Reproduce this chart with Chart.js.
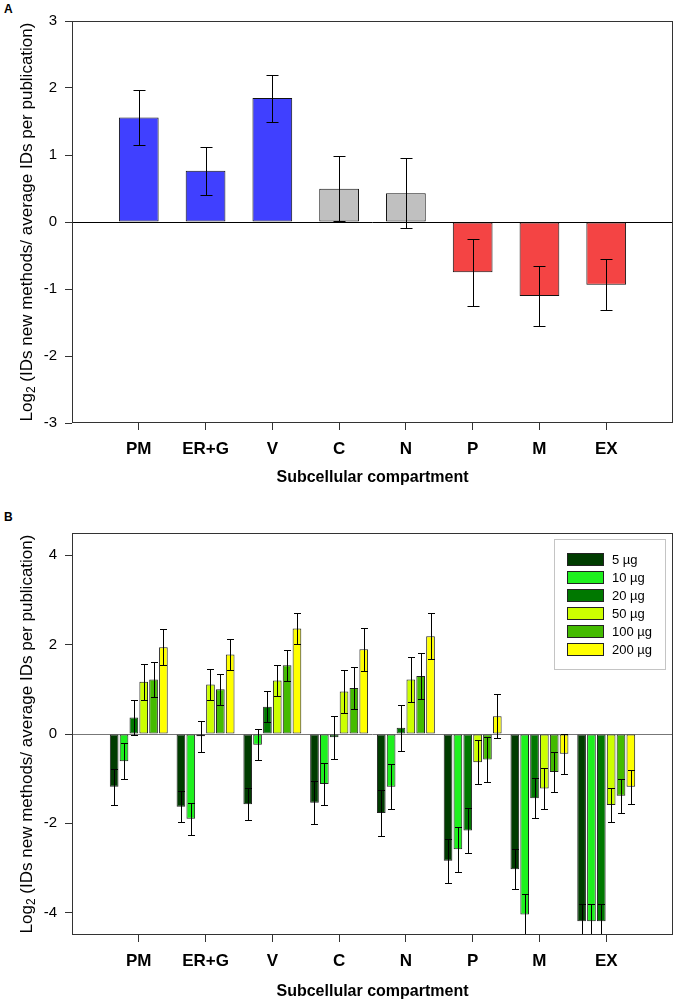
<!DOCTYPE html>
<html>
<head>
<meta charset="utf-8">
<script src="https://cdn.jsdelivr.net/npm/chart.js@4/dist/chart.umd.min.js"></script>
<style>
  html, body { margin: 0; padding: 0; background: #fff; }
  body { width: 682px; height: 1003px; position: relative; overflow: hidden; font-family: "Liberation Sans", Arial, sans-serif; }
  .panel { position: absolute; left: 0; width: 682px; }
  .tag { position: absolute; left: 4px; font: bold 12px "Liberation Sans", Arial, sans-serif; line-height: 1; color: #000; }
</style>
</head>
<body>
<div class="tag" style="top:3px">A</div>
<div class="tag" style="top:511px">B</div>
<div class="panel" style="top:0;height:500px"><canvas id="cA" width="682" height="500"></canvas></div>
<div class="panel" style="top:500px;height:503px"><canvas id="cB" width="682" height="503"></canvas></div>
<script>
// ---------------- data ----------------
const categories = ['PM', 'ER+G', 'V', 'C', 'N', 'P', 'M', 'EX'];

// Panel A
const valuesA = [1.56, 0.765, 1.85, 0.495, 0.43, -0.75, -1.105, -0.935];
const errorsA = [0.41, 0.36, 0.35, 0.485, 0.52, 0.50, 0.45, 0.38];
const colorsA = ['#4040FF', '#4040FF', '#4040FF', '#C0C0C0', '#C0C0C0', '#F44444', '#F44444', '#F44444'];
const yTicksA = [-3, -2, -1, 0, 1, 2, 3];

// Panel B
const seriesNames = ['5 µg', '10 µg', '20 µg', '50 µg', '100 µg', '200 µg'];
const s5   = [-1.18, -1.63, -1.57, -1.54, -1.77, -2.84, -3.03, -4.19];
const s10  = [-0.61, -1.90, -0.24, -1.12, -1.18, -2.58, -4.04, -4.19];
const s20  = [0.37, -0.05, 0.61, -0.07, 0.14, -2.16, -1.44, -4.19];
const s50  = [1.17, 1.11, 1.20, 0.95, 1.22, -0.63, -1.22, -1.59];
const s100 = [1.22, 1.00, 1.54, 1.03, 1.30, -0.57, -0.85, -1.38];
const s200 = [1.94, 1.78, 2.36, 1.90, 2.19, 0.40, -0.44, -1.18];
const errorsB = [0.40, 0.35, 0.35, 0.48, 0.51, 0.50, 0.45, 0.38];
const seriesColors = ['#003C00', '#1EF01E', '#007800', '#CCFF00', '#44BB00', '#FFFF00'];
const yTicksB = [-4, -2, 0, 2, 4];

// ---------------- helpers ----------------
const FONT = '"Liberation Sans", Arial, sans-serif';
const pad = arr => [null, ...arr, null];
const labels = ['', ...categories, ''];

const framePlugin = {
  id: 'frame',
  afterDatasetsDraw(chart, args, opts) {
    const ctx = chart.ctx, a = chart.chartArea;
    const yS = chart.scales.y;
    ctx.save();
    ctx.beginPath();
    ctx.rect(a.left, a.top, a.right - a.left, a.bottom - a.top);
    ctx.clip();
    ctx.strokeStyle = '#000';
    ctx.lineWidth = 1;
    chart.data.datasets.forEach((ds, di) => {
      const meta = chart.getDatasetMeta(di);
      ds.data.forEach((v, i) => {
        if (v === null || v === undefined) return;
        const e = ds.errors[i];
        const x = Math.round(meta.data[i].x) + 0.5;
        const y1 = Math.round(yS.getPixelForValue(v + e)) + 0.5;
        const y2 = Math.round(yS.getPixelForValue(v - e)) + 0.5;
        const c = opts.cap;
        ctx.beginPath();
        ctx.moveTo(x, y1); ctx.lineTo(x, y2);
        ctx.moveTo(x - c, y1); ctx.lineTo(x + c, y1);
        ctx.moveTo(x - c, y2); ctx.lineTo(x + c, y2);
        ctx.stroke();
      });
    });
    ctx.restore();
    ctx.save();
    ctx.strokeStyle = '#333';
    ctx.lineWidth = 1;
    ctx.strokeRect(Math.round(a.left) + 0.5, Math.round(a.top) + 0.5,
                   Math.round(a.right - a.left) - 1, Math.round(a.bottom - a.top) - 1);
    ctx.restore();
  }
};

const yTitlePlugin = {
  id: 'ytitle',
  afterDraw(chart, args, opts) {
    const ctx = chart.ctx, a = chart.chartArea;
    const cy = (a.top + a.bottom) / 2;
    const f = opts.size;
    const main = `${f}px ${FONT}`, sub = `${Math.round(f * 0.72)}px ${FONT}`;
    const p1 = 'Log', p2 = '2', p3 = ' (IDs new methods/ average IDs per publication)';
    ctx.save();
    ctx.font = main; const w1 = ctx.measureText(p1).width, w3 = ctx.measureText(p3).width;
    ctx.font = sub; const w2 = ctx.measureText(p2).width;
    const total = w1 + w2 + w3;
    ctx.translate(opts.x, cy);
    ctx.rotate(-Math.PI / 2);
    ctx.fillStyle = '#000';
    ctx.textBaseline = 'middle';
    ctx.textAlign = 'left';
    let x = -total / 2;
    ctx.font = main; ctx.fillText(p1, x, 0); x += w1;
    ctx.font = sub; ctx.fillText(p2, x, f * 0.3); x += w2;
    ctx.font = main; ctx.fillText(p3, x, 0);
    ctx.restore();
  }
};

const legendPlugin = {
  id: 'boxlegend',
  afterDraw(chart, args, opts) {
    if (!opts.show) return;
    const ctx = chart.ctx;
    ctx.save();
    ctx.fillStyle = '#fff';
    ctx.fillRect(opts.x, opts.y, opts.w, opts.h);
    ctx.strokeStyle = '#c4c4c4';
    ctx.lineWidth = 1;
    ctx.strokeRect(opts.x + 0.5, opts.y + 0.5, opts.w, opts.h);
    ctx.font = `13px ${FONT}`;
    ctx.textBaseline = 'middle';
    ctx.textAlign = 'left';
    chart.data.datasets.forEach((ds, i) => {
      const ry = opts.y + 14 + i * 18;
      ctx.fillStyle = ds.backgroundColor;
      ctx.fillRect(opts.x + 13, ry + 0.5, 37, 12);
      ctx.strokeStyle = '#222';
      ctx.strokeRect(opts.x + 13.5, ry + 0.5, 36, 12);
      ctx.fillStyle = '#000';
      ctx.fillText(ds.label, opts.x + 58, ry + 7);
    });
    ctx.restore();
  }
};

function makeOptions(cfg) {
  return {
    responsive: false,
    animation: false,
    layout: { padding: { top: cfg.padTop, left: 0, right: 3, bottom: 0 } },
    plugins: {
      legend: { display: false },
      tooltip: { enabled: false },
      frame: { cap: cfg.cap },
      ytitle: { x: 27, size: 17 },
      boxlegend: cfg.legend
    },
    scales: {
      x: {
        type: 'category',
        offset: false,
        border: { display: false },
        grid: {
          offset: false,
          drawOnChartArea: false,
          drawTicks: true,
          tickLength: 7,
          tickColor: c => (c.index === 0 || c.index === labels.length - 1) ? 'rgba(0,0,0,0)' : '#333',
          color: 'rgba(0,0,0,0)'
        },
        ticks: {
          autoSkip: false, maxRotation: 0, padding: 9,
          color: '#000',
          font: { family: FONT, size: 17, weight: 'bold' }
        },
        title: {
          display: true, text: 'Subcellular compartment', color: '#000',
          font: { family: FONT, size: 16, weight: 'bold' },
          padding: { top: 0, bottom: cfg.titlePadB }
        },
        afterFit: s => { s.height = cfg.xHeight; }
      },
      y: {
        min: cfg.yMin, max: cfg.yMax,
        border: { display: false },
        afterBuildTicks: s => { s.ticks = cfg.yTicks.map(v => ({ value: v })); },
        grid: {
          drawOnChartArea: true,
          tickLength: 7,
          tickColor: '#333',
          color: c => (c.tick && c.tick.value === 0) ? cfg.zeroColor : 'rgba(0,0,0,0)',
          lineWidth: 1
        },
        ticks: {
          padding: 8, color: '#000',
          font: { family: FONT, size: 15 }
        },
        afterFit: s => { s.width = 72; }
      }
    }
  };
}

// ---------------- Panel A ----------------
new Chart(document.getElementById('cA'), {
  type: 'bar',
  data: {
    labels: labels,
    datasets: [{
      label: 'A',
      data: pad(valuesA),
      errors: pad(errorsA),
      backgroundColor: pad(colorsA),
      borderColor: '#111',
      borderWidth: 1,
      borderSkipped: false,
      categoryPercentage: 1.0,
      barPercentage: 0.595
    }]
  },
  options: makeOptions({
    padTop: 21, xHeight: 77, titlePadB: 13, cap: 6,
    yMin: -3, yMax: 3, yTicks: yTicksA, zeroColor: '#000',
    legend: { show: false }
  }),
  plugins: [framePlugin, yTitlePlugin, legendPlugin]
});

// ---------------- Panel B ----------------
const seriesB = [s5, s10, s20, s50, s100, s200];
new Chart(document.getElementById('cB'), {
  type: 'bar',
  data: {
    labels: labels,
    datasets: seriesB.map((s, i) => ({
      label: seriesNames[i],
      data: pad(s),
      errors: pad(errorsB),
      backgroundColor: seriesColors[i],
      borderColor: '#222',
      borderWidth: 1,
      borderSkipped: false,
      categoryPercentage: 0.885,
      barPercentage: 0.88
    }))
  },
  options: makeOptions({
    padTop: 33, xHeight: 68, titlePadB: 2, cap: 3.5,
    yMin: -4.5, yMax: 4.5, yTicks: yTicksB, zeroColor: '#777',
    legend: { show: true, x: 554, y: 39, w: 111, h: 130 }
  }),
  plugins: [framePlugin, yTitlePlugin, legendPlugin]
});
</script>
</body>
</html>
